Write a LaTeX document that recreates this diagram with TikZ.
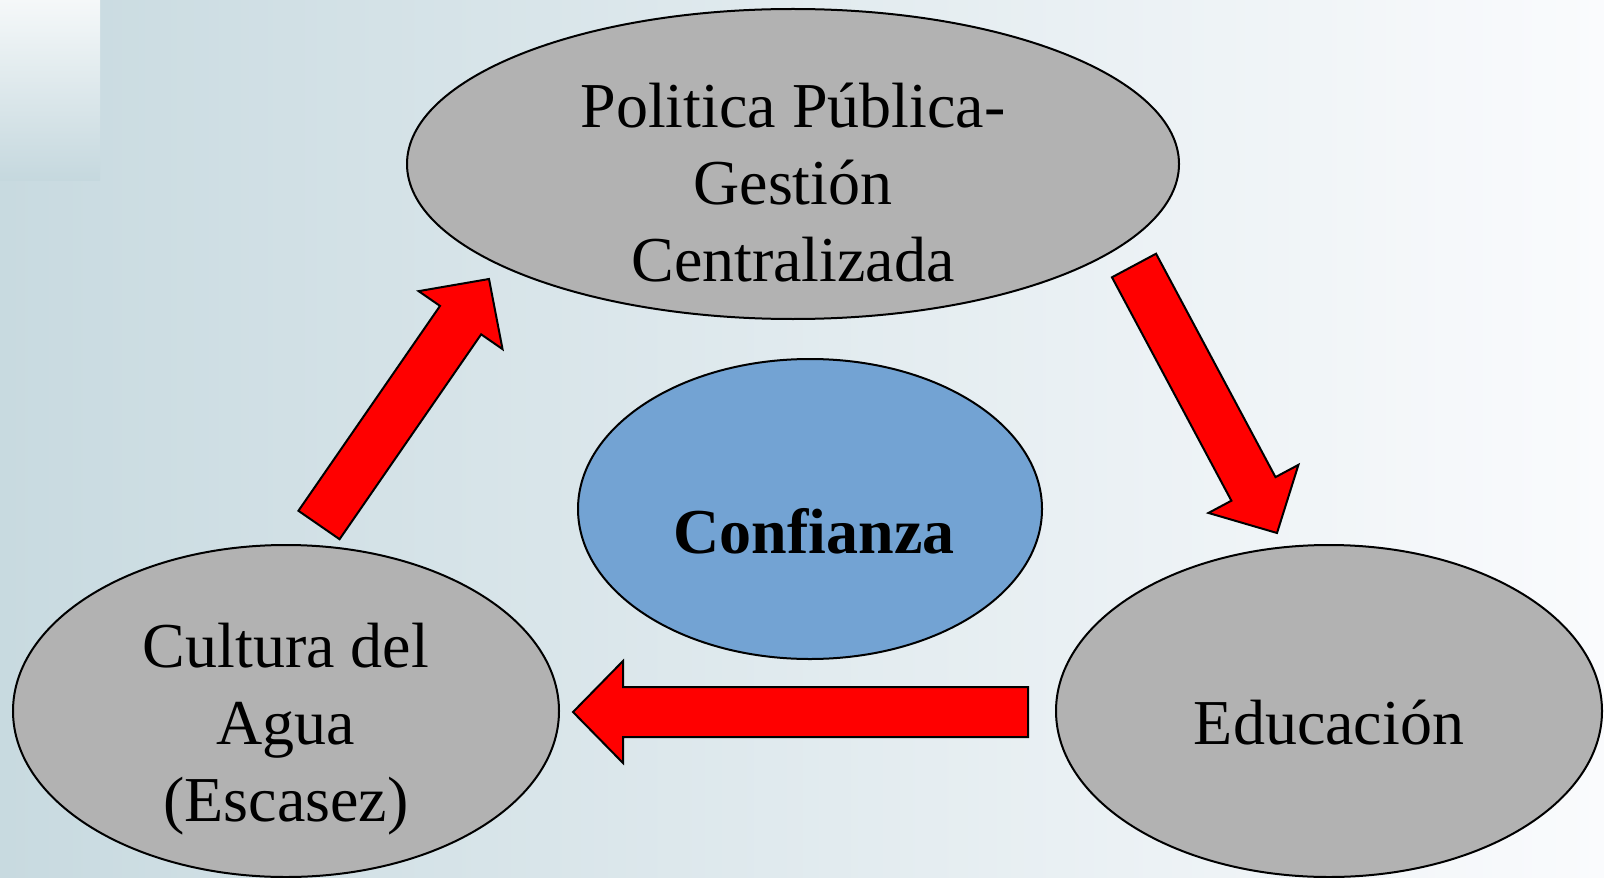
\documentclass[tikz,border=0pt]{standalone}
\usepackage{fontspec}
\setmainfont{Liberation Serif}
\usetikzlibrary{shapes.geometric,calc}

\definecolor{fondoA}{HTML}{C8DAE0}
\definecolor{fondoB}{HTML}{FAFBFD}
\definecolor{esqA}{HTML}{F5F8F9}
\definecolor{esqB}{HTML}{C5D8DE}
\definecolor{gris}{HTML}{B2B2B2}
\definecolor{azul}{HTML}{73A3D3}

\tikzset{
  elipse/.style={draw=black, line width=1pt, ellipse, inner sep=0pt},
  texto/.style={font=\fontsize{32}{38.5}\selectfont, align=center, anchor=base},
  flecha/.style={draw=black, line width=1pt, fill=red, line join=miter},
}

% flecha de bloque: #1 cola, #2 punta
\newcommand{\bloque}[2]{%
  \coordinate (#2-base) at ($(#2)!25pt!(#1)$);
  \draw[flecha] ($(#1)!12.5pt!90:(#2)$) -- ($(#2-base)!12.5pt!90:(#2)$)
    -- ($(#2-base)!25.5pt!90:(#2)$) -- (#2)
    -- ($(#2-base)!25.5pt!-90:(#2)$) -- ($(#2-base)!12.5pt!-90:(#2)$)
    -- ($(#1)!12.5pt!-90:(#2)$) -- cycle;
}

\begin{document}
\begin{tikzpicture}[x=0.5pt,y=-0.5pt]
%%Fondo
\shade[left color=fondoA, right color=fondoB] (0,0) rectangle (1604,877);
\shade[top color=esqA, bottom color=esqB] (0,0) rectangle (100,181);
\useasboundingbox (0,0) rectangle (1604,877);

%%Elipses
\node[elipse, fill=gris, minimum width=386pt, minimum height=155pt] (politica) at (793,164) {};
\node[elipse, fill=azul, minimum width=232pt, minimum height=150pt] (confianza) at (810,509) {};
\node[elipse, fill=gris, minimum width=273pt, minimum height=166pt] (cultura) at (286,711) {};
\node[elipse, fill=gris, minimum width=273pt, minimum height=166pt] (educacion) at (1329,711) {};

%%Textos (base = ultima linea)
\node[texto] (politica-txt) at (793,281) {Politica Pública-\\Gestión\\Centralizada};
\node[texto] (cultura-txt) at (286,821) {Cultura del\\Agua\\(Escasez)};
\node[texto] (educacion-txt) at (1329,744) {Educación};
\node[texto, font=\fontsize{32}{38.5}\selectfont\bfseries] (confianza-txt) at (814,553) {Confianza};

%%Flechas
\coordinate (cultura-sal) at (319,525);
\coordinate (politica-ent) at (489,279);
\coordinate (politica-sal) at (1134,265.5);
\coordinate (educacion-ent) at (1277,533);
\coordinate (educacion-sal) at (1028,712);
\coordinate (cultura-ent) at (573,712);

\bloque{cultura-sal}{politica-ent}
\bloque{politica-sal}{educacion-ent}
\bloque{educacion-sal}{cultura-ent}
\end{tikzpicture}
\end{document}
